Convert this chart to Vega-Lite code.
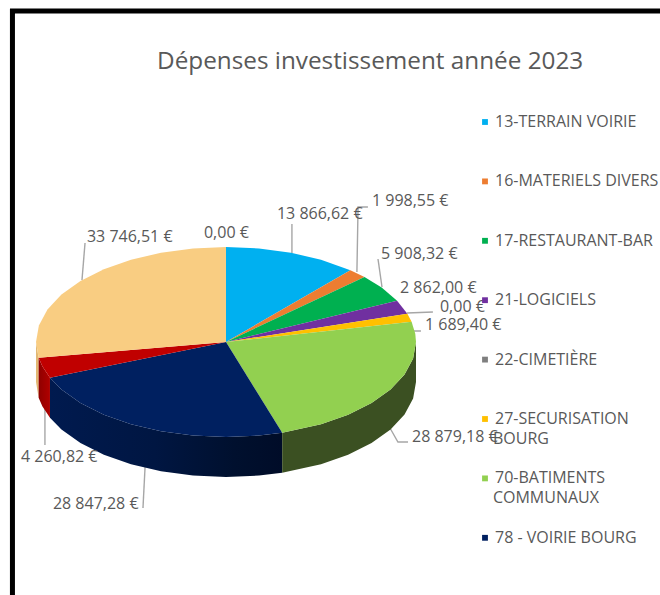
{
"$schema":"https://vega.github.io/schema/vega-lite/v6.json",
"width":660,"height":595,"padding":0,"autosize":{"type":"none"},"background":"white",
"title":{"text":"Dépenses investissement année 2023","anchor":"start","frame":"group","dx":157,"offset":-74,"orient":"top","font":"Open Sans","fontSize":24.3,"fontWeight":"normal","color":"#595959"},
"view":{"stroke":null},
"datasets":{
"slices":[
{"poste":"13-TERRAIN VOIRIE","i":0,"x":0,"y":0},{"poste":"13-TERRAIN VOIRIE","i":1,"x":0,"y":1},{"poste":"13-TERRAIN VOIRIE","i":2,"x":0.1736,"y":0.9848},{"poste":"13-TERRAIN VOIRIE","i":3,"x":0.342,"y":0.9397},{"poste":"13-TERRAIN VOIRIE","i":4,"x":0.5,"y":0.866},{"poste":"13-TERRAIN VOIRIE","i":5,"x":0.6547,"y":0.7559},{"poste":"13-TERRAIN VOIRIE","i":6,"x":0,"y":0},
{"poste":"16-MATERIELS DIVERS","i":0,"x":0,"y":0},{"poste":"16-MATERIELS DIVERS","i":1,"x":0.6547,"y":0.7559},{"poste":"16-MATERIELS DIVERS","i":2,"x":0.7288,"y":0.6847},{"poste":"16-MATERIELS DIVERS","i":3,"x":0,"y":0},
{"poste":"17-RESTAURANT-BAR","i":0,"x":0,"y":0},{"poste":"17-RESTAURANT-BAR","i":1,"x":0.7288,"y":0.6847},{"poste":"17-RESTAURANT-BAR","i":2,"x":0.8192,"y":0.5736},{"poste":"17-RESTAURANT-BAR","i":3,"x":0.9004,"y":0.435},{"poste":"17-RESTAURANT-BAR","i":4,"x":0,"y":0},
{"poste":"21-LOGICIELS","i":0,"x":0,"y":0},{"poste":"21-LOGICIELS","i":1,"x":0.9004,"y":0.435},{"poste":"21-LOGICIELS","i":2,"x":0.9546,"y":0.2981},{"poste":"21-LOGICIELS","i":3,"x":0,"y":0},
{"poste":"27-SECURISATION BOURG","i":0,"x":0,"y":0},{"poste":"27-SECURISATION BOURG","i":1,"x":0.9546,"y":0.2981},{"poste":"27-SECURISATION BOURG","i":2,"x":0.9768,"y":0.214},{"poste":"27-SECURISATION BOURG","i":3,"x":0,"y":0},
{"poste":"70-BATIMENTS COMMUNAUX","i":0,"x":0,"y":0},{"poste":"70-BATIMENTS COMMUNAUX","i":1,"x":0.9768,"y":0.214},{"poste":"70-BATIMENTS COMMUNAUX","i":2,"x":0.9962,"y":0.0872},{"poste":"70-BATIMENTS COMMUNAUX","i":3,"x":1,"y":0},{"poste":"70-BATIMENTS COMMUNAUX","i":4,"x":0.9848,"y":-0.1736},{"poste":"70-BATIMENTS COMMUNAUX","i":5,"x":0.9397,"y":-0.342},{"poste":"70-BATIMENTS COMMUNAUX","i":6,"x":0.866,"y":-0.5},{"poste":"70-BATIMENTS COMMUNAUX","i":7,"x":0.766,"y":-0.6428},{"poste":"70-BATIMENTS COMMUNAUX","i":8,"x":0.6428,"y":-0.766},{"poste":"70-BATIMENTS COMMUNAUX","i":9,"x":0.5,"y":-0.866},{"poste":"70-BATIMENTS COMMUNAUX","i":10,"x":0.2957,"y":-0.9553},{"poste":"70-BATIMENTS COMMUNAUX","i":11,"x":0,"y":0},
{"poste":"78 - VOIRIE BOURG","i":0,"x":0,"y":0},{"poste":"78 - VOIRIE BOURG","i":1,"x":0.2957,"y":-0.9553},{"poste":"78 - VOIRIE BOURG","i":2,"x":0.1736,"y":-0.9848},{"poste":"78 - VOIRIE BOURG","i":3,"x":0,"y":-1},{"poste":"78 - VOIRIE BOURG","i":4,"x":-0.1736,"y":-0.9848},{"poste":"78 - VOIRIE BOURG","i":5,"x":-0.342,"y":-0.9397},{"poste":"78 - VOIRIE BOURG","i":6,"x":-0.5,"y":-0.866},{"poste":"78 - VOIRIE BOURG","i":7,"x":-0.6428,"y":-0.766},{"poste":"78 - VOIRIE BOURG","i":8,"x":-0.766,"y":-0.6428},{"poste":"78 - VOIRIE BOURG","i":9,"x":-0.866,"y":-0.5},{"poste":"78 - VOIRIE BOURG","i":10,"x":-0.9265,"y":-0.3762},{"poste":"78 - VOIRIE BOURG","i":11,"x":0,"y":0},
{"poste":"79-DIVERS","i":0,"x":0,"y":0},{"poste":"79-DIVERS","i":1,"x":-0.9265,"y":-0.3762},{"poste":"79-DIVERS","i":2,"x":-0.9659,"y":-0.2588},{"poste":"79-DIVERS","i":3,"x":-0.9862,"y":-0.1655},{"poste":"79-DIVERS","i":4,"x":0,"y":0},
{"poste":"80-AUTRES","i":0,"x":0,"y":0},{"poste":"80-AUTRES","i":1,"x":-0.9862,"y":-0.1655},{"poste":"80-AUTRES","i":2,"x":-1,"y":0},{"poste":"80-AUTRES","i":3,"x":-0.9848,"y":0.1736},{"poste":"80-AUTRES","i":4,"x":-0.9397,"y":0.342},{"poste":"80-AUTRES","i":5,"x":-0.866,"y":0.5},{"poste":"80-AUTRES","i":6,"x":-0.766,"y":0.6428},{"poste":"80-AUTRES","i":7,"x":-0.6428,"y":0.766},{"poste":"80-AUTRES","i":8,"x":-0.5,"y":0.866},{"poste":"80-AUTRES","i":9,"x":-0.342,"y":0.9397},{"poste":"80-AUTRES","i":10,"x":-0.1736,"y":0.9848},{"poste":"80-AUTRES","i":11,"x":0,"y":1},{"poste":"80-AUTRES","i":12,"x":0,"y":0}
],
"rim":[
{"part":"green","x":1,"y":0,"yb":-0.421},{"part":"green","x":0.9848,"y":-0.1736,"yb":-0.5946},{"part":"green","x":0.9397,"y":-0.342,"yb":-0.763},{"part":"green","x":0.866,"y":-0.5,"yb":-0.921},{"part":"green","x":0.766,"y":-0.6428,"yb":-1.0638},{"part":"green","x":0.6428,"y":-0.766,"yb":-1.187},{"part":"green","x":0.5,"y":-0.866,"yb":-1.287},{"part":"green","x":0.2957,"y":-0.9553,"yb":-1.3763},
{"part":"navy","x":0.2957,"y":-0.9553,"yb":-1.3763},{"part":"navy","x":0.1736,"y":-0.9848,"yb":-1.4058},{"part":"navy","x":0,"y":-1,"yb":-1.421},{"part":"navy","x":-0.1736,"y":-0.9848,"yb":-1.4058},{"part":"navy","x":-0.342,"y":-0.9397,"yb":-1.3607},{"part":"navy","x":-0.5,"y":-0.866,"yb":-1.287},{"part":"navy","x":-0.6428,"y":-0.766,"yb":-1.187},{"part":"navy","x":-0.766,"y":-0.6428,"yb":-1.0638},{"part":"navy","x":-0.866,"y":-0.5,"yb":-0.921},{"part":"navy","x":-0.9265,"y":-0.3762,"yb":-0.7972},
{"part":"red","x":-0.9265,"y":-0.3762,"yb":-0.7972},{"part":"red","x":-0.9659,"y":-0.2588,"yb":-0.6798},{"part":"red","x":-0.9862,"y":-0.1655,"yb":-0.5865},
{"part":"tan","x":-0.9862,"y":-0.1655,"yb":-0.5865},{"part":"tan","x":-1,"y":0,"yb":-0.421}
],
"leaders":[
{"id":"a","i":0,"x":0.347,"y":1.242},{"id":"a","i":1,"x":0.347,"y":0.937},
{"id":"b","i":0,"x":0.747,"y":1.421},{"id":"b","i":1,"x":0.695,"y":1.421},{"id":"b","i":2,"x":0.689,"y":0.737},
{"id":"c","i":0,"x":0.8,"y":0.874},{"id":"c","i":1,"x":0.821,"y":0.579},
{"id":"d","i":0,"x":1.089,"y":0.316},{"id":"d","i":1,"x":0.953,"y":0.305},
{"id":"e","i":0,"x":1.026,"y":0.116},{"id":"e","i":1,"x":0.984,"y":0.116},{"id":"e","i":2,"x":0.963,"y":0.232},
{"id":"f","i":0,"x":-0.742,"y":1.042},{"id":"f","i":1,"x":-0.758,"y":0.653},
{"id":"g","i":0,"x":-0.953,"y":-0.684},{"id":"g","i":1,"x":-0.953,"y":-1.084},
{"id":"h","i":0,"x":-0.437,"y":-1.747},{"id":"h","i":1,"x":-0.426,"y":-1.316},
{"id":"k","i":0,"x":0.958,"y":-1.053},{"id":"k","i":1,"x":0.905,"y":-1.053},{"id":"k","i":2,"x":0.863,"y":-0.905}
],
"labels":[
{"montant":13866.62,"label":"13 866,62 €","x":0.268,"y":1.347},
{"montant":1998.55,"label":"1 998,55 €","x":0.768,"y":1.484},
{"montant":5908.32,"label":"5 908,32 €","x":0.816,"y":0.926},
{"montant":2862,"label":"2 862,00 €","x":0.916,"y":0.568},
{"montant":0,"label":"0,00 €","x":1.126,"y":0.368},
{"montant":1689.4,"label":"1 689,40 €","x":1.047,"y":0.179},
{"montant":28879.18,"label":"28 879,18 €","x":0.979,"y":-1},
{"montant":28847.28,"label":"28 847,28 €","x":-0.911,"y":-1.705},
{"montant":4260.82,"label":"4 260,82 €","x":-1.079,"y":-1.211},
{"montant":33746.51,"label":"33 746,51 €","x":-0.732,"y":1.105},
{"montant":0,"label":"0,00 €","x":-0.116,"y":1.147}
],
"wrap":[{"label":"BOURG","x":1.405,"y":-1.021},{"label":"COMMUNAUX","x":1.405,"y":-1.642}],
"frame":[{"i":0,"x":2.2842,"y":3.484},{"i":1,"x":-1.124,"y":3.484},{"i":2,"x":-1.124,"y":-2.663}]
},
"encoding":{
"x":{"field":"x","type":"quantitative","axis":null,"scale":{"domain":[-1.1895,2.2842],"nice":false,"zero":false}},
"y":{"field":"y","type":"quantitative","axis":null,"scale":{"domain":[-2.663,3.6],"nice":false,"zero":false}}
},
"layer":[
{"data":{"name":"frame"},"mark":{"type":"line","stroke":"#000000","strokeWidth":5,"strokeJoin":"miter"},"encoding":{"order":{"field":"i"}}},
{"data":{"name":"leaders"},"mark":{"type":"line","stroke":"#A6A6A6","strokeWidth":1.4},"encoding":{"detail":{"field":"id"},"order":{"field":"i"}}},
{"data":{"name":"rim"},"transform":[{"filter":"datum.part=='tan'"}],"mark":{"type":"area","orient":"vertical","color":"#E2B873"},"encoding":{"y2":{"field":"yb"}}},
{"data":{"name":"rim"},"transform":[{"filter":"datum.part=='red'"}],"mark":{"type":"area","orient":"vertical","color":{"gradient":"linear","x1":0,"x2":1,"y1":0,"y2":0,"stops":[{"offset":0,"color":"#8F0000"},{"offset":1,"color":"#B00000"}]}},"encoding":{"y2":{"field":"yb"}}},
{"data":{"name":"rim"},"transform":[{"filter":"datum.part=='navy'"}],"mark":{"type":"area","orient":"vertical","color":{"gradient":"linear","x1":0,"x2":1,"y1":0,"y2":0,"stops":[{"offset":0,"color":"#001A4F"},{"offset":0.45,"color":"#001642"},{"offset":0.8,"color":"#00102E"},{"offset":1,"color":"#000C28"}]}},"encoding":{"y2":{"field":"yb"}}},
{"data":{"name":"rim"},"transform":[{"filter":"datum.part=='green'"}],"mark":{"type":"area","orient":"vertical","color":"#3B5022"},"encoding":{"y2":{"field":"yb"}}},
{"data":{"name":"slices"},"mark":{"type":"line","stroke":null},"encoding":{"order":{"field":"i"},
"fill":{"field":"poste","type":"nominal","scale":{"domain":["13-TERRAIN VOIRIE","16-MATERIELS DIVERS","17-RESTAURANT-BAR","21-LOGICIELS","22-CIMETIÈRE","27-SECURISATION BOURG","70-BATIMENTS COMMUNAUX","78 - VOIRIE BOURG","79-DIVERS","80-AUTRES"],"range":["#00B0F0","#ED7D31","#00B050","#7030A0","#7F7F7F","#FFC000","#92D050","#002060","#C00000","#F9CD82"]},
"legend":{"title":null,"orient":"none","legendX":477,"legendY":114,"padding":0,"symbolType":"square","symbolSize":34,"symbolStrokeWidth":0,"labelFont":"Open Sans","labelFontSize":16,"labelColor":"#595959","labelOffset":2,"labelLimit":200,"rowPadding":43.4,
"values":["13-TERRAIN VOIRIE","16-MATERIELS DIVERS","17-RESTAURANT-BAR","21-LOGICIELS","22-CIMETIÈRE","27-SECURISATION BOURG","70-BATIMENTS COMMUNAUX","78 - VOIRIE BOURG"],
"labelExpr":"replace(replace(datum.label,'SECURISATION BOURG','SECURISATION'),'BATIMENTS COMMUNAUX','BATIMENTS')"}}}},
{"data":{"name":"labels"},"mark":{"type":"text","align":"left","baseline":"middle","font":"Open Sans","fontSize":16,"color":"#595959"},"encoding":{"text":{"field":"label"}}},
{"data":{"name":"wrap"},"mark":{"type":"text","align":"left","baseline":"middle","font":"Open Sans","fontSize":16,"color":"#595959"},"encoding":{"text":{"field":"label"}}}
]
}
